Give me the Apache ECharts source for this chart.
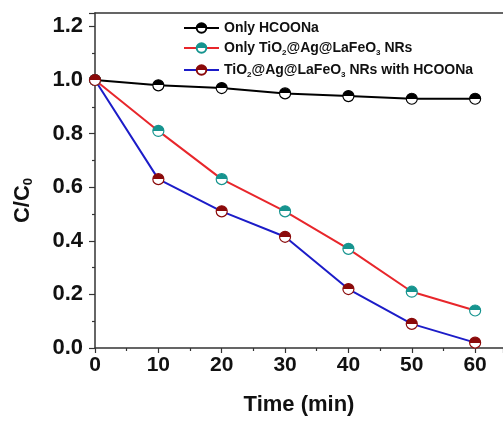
<!DOCTYPE html>
<html>
<head>
<meta charset="utf-8">
<script src="https://cdn.jsdelivr.net/npm/echarts@6/dist/echarts.min.js"></script>
<style>html,body{margin:0;padding:0;background:#fff}#c{width:503px;height:421px}</style>
</head>
<body>
<div id="c"></div>
<script>
var times = [0, 10, 20, 30, 40, 50, 60];
var onlyHCOONa = [1.00, 0.98, 0.97, 0.95, 0.94, 0.93, 0.93];
var onlyNRs = [1.00, 0.81, 0.63, 0.51, 0.37, 0.21, 0.14];
var nrsWithHCOONa = [1.00, 0.63, 0.51, 0.415, 0.22, 0.09, 0.02];
var seriesNames = ['Only HCOONa', 'Only TiO{sub|2}@Ag@LaFeO{sub|3} NRs', 'TiO{sub|2}@Ag@LaFeO{sub|3} NRs with HCOONa'];
var yTicks = ['0.0', '0.2', '0.4', '0.6', '0.8', '1.0', '1.2'];

function pairs(vals) { return times.map(function (t, i) { return [t, vals[i]]; }); }
function half(c) {
  return new echarts.graphic.LinearGradient(0, 0, 0, 1, [
    {offset: 0, color: c}, {offset: 0.5, color: c},
    {offset: 0.5, color: '#ffffff'}, {offset: 1, color: '#ffffff'}
  ]);
}
function mk(name, vals, lineColor, markColor) {
  return {
    name: name, type: 'line', data: pairs(vals),
    symbol: 'circle', symbolSize: 11,
    lineStyle: {color: lineColor, width: 2},
    itemStyle: {color: half(markColor), borderColor: markColor, borderWidth: 1.2},
    emphasis: {disabled: true}
  };
}
var chart = echarts.init(document.getElementById('c'), null, {renderer: 'canvas'});
var font = '"Liberation Sans", Arial, sans-serif';
chart.setOption({
  animation: false,
  backgroundColor: '#fff',
  grid: {left: 95, right: 0, top: 13, bottom: 73, containLabel: false},
  legend: {
    orient: 'vertical', left: 178, top: 16, itemWidth: 35, itemHeight: 12, itemGap: 6,
    textStyle: {fontFamily: font, fontWeight: 'bold', fontSize: 14, color: '#111',
      rich: {sub: {fontSize: 8, fontWeight: 'bold', fontFamily: font, verticalAlign: 'bottom', padding: [10, 0, 0, 0]}}},
    data: seriesNames
  },
  xAxis: [{
    type: 'value', min: 0, max: 64.4, interval: 10,
    axisLine: {show: true, lineStyle: {color: '#333', width: 1.5}},
    axisTick: {show: true, inside: false, length: 5, lineStyle: {color: '#333', width: 1.2}},
    minorTick: {show: true, splitNumber: 2, length: 3, lineStyle: {color: '#333', width: 1.2}},
    splitLine: {show: false},
    axisLabel: {margin: 7, fontFamily: font, fontWeight: 'bold', fontSize: 21, color: '#111',
      showMaxLabel: false,
      formatter: function (v) { return times.indexOf(v) >= 0 ? String(v) : ''; }},
    name: 'Time (min)', nameLocation: 'middle', nameGap: 46,
    nameTextStyle: {fontFamily: font, fontWeight: 'bold', fontSize: 22, color: '#111'}
  }, {
    type: 'value', position: 'top', min: 0, max: 64.4,
    axisLine: {show: true, lineStyle: {color: '#333', width: 1.5}},
    axisTick: {show: false}, axisLabel: {show: false}, splitLine: {show: false}
  }],
  yAxis: {
    type: 'value', min: 0, max: 1.25, interval: 0.2,
    axisLine: {show: true, lineStyle: {color: '#333', width: 1.5}},
    axisTick: {show: true, inside: false, length: 6, lineStyle: {color: '#333', width: 1.2}},
    minorTick: {show: true, splitNumber: 2, length: 3, lineStyle: {color: '#333', width: 1.2}},
    splitLine: {show: false},
    axisLabel: {margin: 12, fontFamily: font, fontWeight: 'bold', fontSize: 22, color: '#111',
      showMaxLabel: false,
      formatter: function (v) {
        var s = v.toFixed(1);
        return yTicks.indexOf(s) >= 0 && Math.abs(v * 10 - Math.round(v * 10)) < 1e-6 ? s : '';
      }},
    name: 'C/C{sub|0}', nameLocation: 'middle', nameGap: 60,
    nameTextStyle: {fontFamily: font, fontWeight: 'bold', fontSize: 22, color: '#111', padding: [0, 0, 0, -40],
      rich: {sub: {fontFamily: font, fontWeight: 'bold', fontSize: 13, color: '#111', verticalAlign: 'bottom', padding: [12, 0, 0, 0]}}}
  },
  series: [
    mk(seriesNames[0], onlyHCOONa, '#000000', '#000000'),
    mk(seriesNames[1], onlyNRs, '#e8262b', '#16948f'),
    mk(seriesNames[2], nrsWithHCOONa, '#1c1cc8', '#8b0a0a')
  ]
});
</script>
</body>
</html>
